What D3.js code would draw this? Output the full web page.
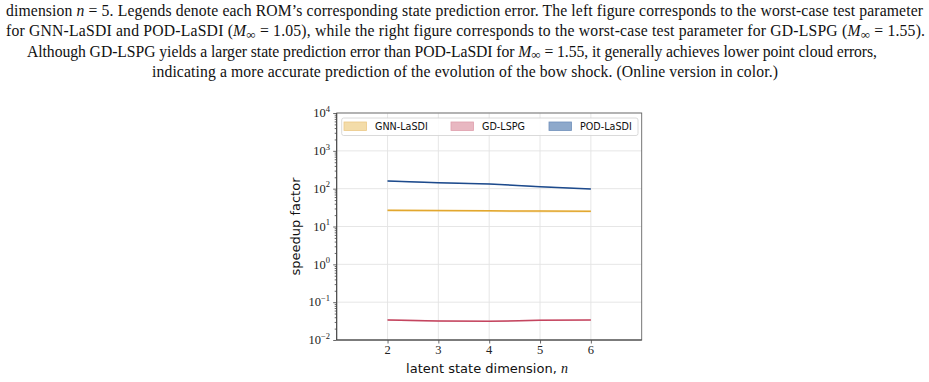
<!DOCTYPE html>
<html>
<head>
<meta charset="utf-8">
<script src="https://cdn.jsdelivr.net/npm/d3@7"></script>
<style>
  html, body { margin: 0; padding: 0; background: #fff; }
  svg { display: block; }
  .cap { font-family: "Liberation Serif", "Times New Roman", serif; font-size: 15.7px; fill: #111; }
  .tick-lab { font-family: "Liberation Serif", "DejaVu Serif", serif; font-size: 12.5px; fill: #222; }
  .sans { font-family: "DejaVu Sans", sans-serif; fill: #111; }
</style>
</head>
<body>
<svg id="chart" width="929" height="382"></svg>
<script>
// ---------- data ----------
const nValues = [2, 3, 4, 5, 6];
const gnnMean = [26.8, 26.5, 26.0, 25.6, 25.2];
const gnnLow  = [24.6, 24.4, 24.0, 23.6, 23.3];
const gnnHigh = [27.6, 27.3, 26.8, 26.4, 26.0];
const gdMean  = [0.0338, 0.0318, 0.0312, 0.0331, 0.0338];
const gdLow   = [0.0322, 0.0305, 0.0300, 0.0318, 0.0328];
const gdHigh  = [0.0360, 0.0333, 0.0323, 0.0347, 0.0349];
const podMean = [160, 144, 133, 113, 98];
const podLow  = [155, 140, 130, 110, 96];
const podHigh = [164, 147, 136, 116, 100];
const seriesNames = ["GNN-LaSDI", "GD-LSPG", "POD-LaSDI"];
const yTickExps = [-2, -1, 0, 1, 2, 3, 4];
const xTicks = [2, 3, 4, 5, 6];
const xLabel = "latent state dimension, ";
const yLabel = "speedup factor";

const captionLines = [
  {x: 6, w: 917, parts: [["dimension "], ["n", "i"], [" = 5. Legends denote each ROM’s corresponding state prediction error. The left figure corresponds to the worst-case test parameter"]]},
  {x: 6, w: 919, parts: [["for GNN-LaSDI and POD-LaSDI ("], ["M", "i"], ["∞", "sub"], [" = 1.05), while the right figure corresponds to the worst-case test parameter for GD-LSPG ("], ["M", "i"], ["∞", "sub"], [" = 1.55)."]]},
  {x: 27, w: 850, parts: [["Although GD-LSPG yields a larger state prediction error than POD-LaSDI for "], ["M", "i"], ["∞", "sub"], [" = 1.55, it generally achieves lower point cloud errors,"]]},
  {x: 152, w: 626, parts: [["indicating a more accurate prediction of the evolution of the bow shock. (Online version in color.)"]]}
];
const captionBaselines = [15.7, 36.2, 56.7, 77];

// ---------- setup ----------
const svg = d3.select("#chart");
svg.append("rect").attr("width", 929).attr("height", 382).attr("fill", "#fff");

// caption
captionLines.forEach((ln, i) => {
  const t = svg.append("text").attr("class", "cap")
    .attr("x", ln.x).attr("y", captionBaselines[i])
    .attr("textLength", ln.w).attr("lengthAdjust", "spacing");
  ln.parts.forEach((p, j) => {
    const ts = t.append("tspan").text(p[0]);
    if (p[1] === "i") ts.attr("font-style", "italic");
    if (p[1] === "sub") ts.attr("font-size", "13px").attr("dy", 2.5);
    if (p[1] !== "sub" && j > 0 && ln.parts[j - 1][1] === "sub") ts.attr("dy", -2.5);
  });
});

// scales
const x0 = 336.7, x1 = 641.7, yTop = 113, yBot = 340;
const x = d3.scaleLinear().domain([1, 7]).range([x0, x1]);
const y = d3.scaleLog().domain([1e-2, 1e4]).range([yBot, yTop]);

const g = svg.append("g");

// grid
g.append("g").selectAll("line").data(xTicks).join("line")
  .attr("x1", d => x(d)).attr("x2", d => x(d))
  .attr("y1", yTop).attr("y2", yBot)
  .attr("stroke", "#e3e3e3").attr("stroke-width", 0.9);
g.append("g").selectAll("line").data(yTickExps.map(e => Math.pow(10, e))).join("line")
  .attr("x1", x0).attr("x2", x1)
  .attr("y1", d => y(d)).attr("y2", d => y(d))
  .attr("stroke", "#e3e3e3").attr("stroke-width", 0.9);

// series
const series = [
  {name: seriesNames[0], mean: gnnMean, lo: gnnLow, hi: gnnHigh, line: "#e2a72e", fill: "#efc978", patch: "#f3dca9", patchEdge: "#ecc987"},
  {name: seriesNames[1], mean: gdMean, lo: gdLow, hi: gdHigh, line: "#c4455f", fill: "#dc8c9c", patch: "#e8b7c1", patchEdge: "#df9eac"},
  {name: seriesNames[2], mean: podMean, lo: podLow, hi: podHigh, line: "#1d4a8c", fill: "#5f86b8", patch: "#8ea9cb", patchEdge: "#6f8fbb"}
];

const area = (s) => d3.area()
  .x((d, i) => x(nValues[i]))
  .y0((d, i) => y(s.lo[i]))
  .y1((d, i) => y(s.hi[i]));
const line = d3.line().x((d, i) => x(nValues[i])).y(d => y(d));

series.forEach(s => {
  g.append("path").datum(s.mean).attr("d", area(s)).attr("fill", s.fill).attr("fill-opacity", 0.45);
  g.append("path").datum(s.mean).attr("d", line).attr("fill", "none")
    .attr("stroke", s.line).attr("stroke-width", 1.5);
});

// axes
const majorVals = yTickExps.map(e => Math.pow(10, e));
const minorVals = [];
for (let e = -2; e < 4; e++) for (let k = 2; k <= 9; k++) minorVals.push(k * Math.pow(10, e));

const yAxis = g.append("g").attr("transform", `translate(${x0},0)`)
  .call(d3.axisLeft(y).tickValues(majorVals).tickSize(3.5).tickFormat(""));
const yMinor = g.append("g").attr("transform", `translate(${x0},0)`)
  .call(d3.axisLeft(y).tickValues(minorVals).tickSize(2).tickFormat(""));
const xAxis = g.append("g").attr("transform", `translate(0,${yBot})`)
  .call(d3.axisBottom(x).tickValues(xTicks).tickSize(3.5).tickFormat(""));
[yAxis, yMinor, xAxis].forEach(a => {
  a.select(".domain").remove();
  a.selectAll(".tick line").attr("stroke", "#444").attr("stroke-width", 0.8);
});

// frame
g.append("rect").attr("x", x0).attr("y", yTop).attr("width", x1 - x0).attr("height", yBot - yTop)
  .attr("fill", "none").attr("stroke", "#666").attr("stroke-width", 0.9);
g.append("line").attr("x1", x0).attr("x2", x0).attr("y1", yTop).attr("y2", yBot).attr("stroke", "#444").attr("stroke-width", 1);
g.append("line").attr("x1", x0).attr("x2", x1).attr("y1", yBot).attr("y2", yBot).attr("stroke", "#444").attr("stroke-width", 1);

// y tick labels
yTickExps.forEach(e => {
  const t = g.append("text").attr("class", "tick-lab")
    .attr("x", 330).attr("y", y(Math.pow(10, e)) + 4.3).attr("text-anchor", "end");
  t.append("tspan").text("10");
  t.append("tspan").attr("font-size", "8.5px").attr("dy", -5.5).text(e < 0 ? "−" + Math.abs(e) : String(e));
});
// x tick labels
xTicks.forEach(v => {
  g.append("text").attr("class", "tick-lab").attr("x", x(v)).attr("y", 354)
    .attr("text-anchor", "middle").text(v);
});

// axis labels
const xl = g.append("text").attr("class", "sans").attr("font-size", "13px")
  .attr("x", 487).attr("y", 373).attr("text-anchor", "middle");
xl.append("tspan").text(xLabel);
xl.append("tspan").attr("font-family", "Liberation Serif, serif").attr("font-style", "italic").attr("font-size", "14px").text("n");

g.append("text").attr("class", "sans").attr("font-size", "13px")
  .attr("transform", `translate(299.5,226.5) rotate(-90)`)
  .attr("text-anchor", "middle").text(yLabel);

// legend
const lg = g.append("g");
lg.append("rect").attr("x", 341.7).attr("y", 118).attr("width", 296.3).attr("height", 17.5)
  .attr("rx", 2).attr("fill", "#fff").attr("fill-opacity", 0.85).attr("stroke", "#d0d0d0").attr("stroke-width", 0.8);
const legX = [344, 451, 549];
series.forEach((s, i) => {
  lg.append("rect").attr("x", legX[i]).attr("y", 122).attr("width", 22.5).attr("height", 8.5)
    .attr("fill", s.patch).attr("stroke", s.patchEdge).attr("stroke-width", 0.8);
  lg.append("text").attr("class", "sans").attr("font-size", "9.6px")
    .attr("x", legX[i] + 31).attr("y", 130).text(s.name);
});
</script>
</body>
</html>
